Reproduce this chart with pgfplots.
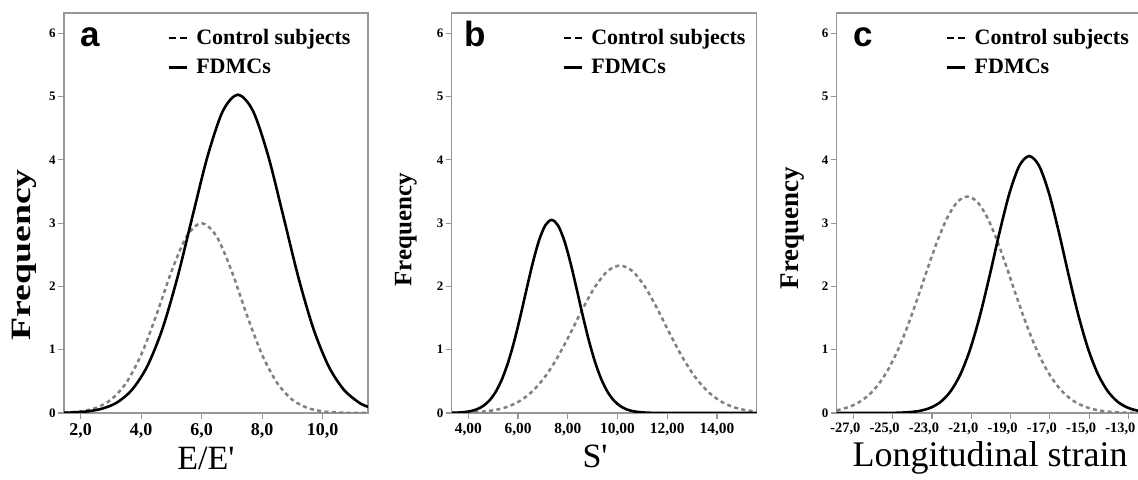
\documentclass[border=0pt]{standalone}
\usepackage{fontspec}
\setmainfont{Liberation Serif}
\newfontfamily\labfont{Liberation Serif}[Ligatures=TeXOff]
\newfontfamily\letterfont{Liberation Sans}
\usepackage{graphicx}
\usepackage{pgfplots}
\pgfplotsset{compat=1.18}

\definecolor{framegray}{RGB}{150,150,150}
\definecolor{ctrlgray}{RGB}{128,128,128}

\pgfplotsset{
  panel/.style={
    scale only axis, anchor=south west,
    height=200pt, ymin=0, ymax=6.32,
    ytick={0,1,2,3,4,5,6}, yticklabels={0,1,2,3,4,5,6},
    tick pos=left, tick align=outside, major tick length=3pt,
    axis line style={framegray, line width=0.7pt},
    tick style={framegray, line width=0.6pt},
    yticklabel style={font=\fontsize{6.5}{7}\selectfont\bfseries, inner sep=1pt},
    legend cell align=left,
    legend style={draw=none, fill=none, anchor=north east, inner sep=0pt,
      font=\fontsize{11}{12}\selectfont\bfseries, row sep=3.5pt,
      nodes={inner sep=0.5pt, text height=8pt, text depth=2pt},
      /tikz/every odd column/.append style={column sep=3.5pt}},
  },
  ctrlline/.style={ctrlgray, line width=1.25pt, dash pattern=on 2pt off 1.7pt, smooth,
    legend image code/.code={
      \draw[black, line width=1pt, dash pattern=on 3.5pt off 2pt] (0pt,0pt) -- (9pt,0pt);}},
  fdmcline/.style={black, line width=1.3pt, smooth,
    legend image code/.code={
      \path (0pt,0pt) -- (9pt,0pt);
      \draw[black, line width=1.1pt] (0.3pt,0pt) -- (7.5pt,0pt);}},
}

\begin{document}
\begin{tikzpicture}

% ---- panel a : E/E'
\begin{axis}[panel, at={(32pt,33.5pt)}, width=152pt,
    xmin=1.45, xmax=11.5,
    xtick={2,4,6,8,10}, xticklabels={{2,0},{4,0},{6,0},{8,0},{10,0}},
    xticklabel style={font=\fontsize{9}{10}\selectfont\bfseries, yshift=1.5pt},
    xlabel={\labfont\fontsize{17}{18}\selectfont E/E'},
    xlabel style={at={(axis description cs:0.467,-0.1425)}, anchor=base},
    ylabel={\scalebox{1.35}[1]{\bfseries\fontsize{14}{15}\selectfont Frequency}},
    ylabel style={at={(axis description cs:-0.132,0.395)}, anchor=center},
    legend style={at={(axis description cs:0.947,0.965)}},
]
\addplot[ctrlline] coordinates {
  (1.45,0.006) (2.0,0.026) (2.5,0.080) (3.0,0.209) (3.5,0.472) (4.0,0.919)
  (4.5,1.542) (5.0,2.232) (5.5,2.786) (6.0,3.000) (6.5,2.786) (7.0,2.232)
  (7.5,1.542) (8.0,0.919) (8.5,0.472) (9.0,0.209) (9.5,0.080) (10.0,0.026)
  (10.5,0.008) (11.0,0.002) (11.5,0.000)
};
\addplot[fdmcline] coordinates {
  (1.45,0.004) (1.7,0.008) (2.2,0.024) (2.7,0.067) (3.2,0.165) (3.7,0.368)
  (4.2,0.736) (4.7,1.324) (5.2,2.140) (5.7,3.111) (6.2,4.063) (6.7,4.770)
  (7.2,5.030) (7.7,4.770) (8.2,4.063) (8.7,3.111) (9.2,2.140) (9.7,1.324)
  (10.2,0.736) (10.7,0.368) (11.2,0.165) (11.5,0.097)
};
\legend{Control subjects, FDMCs}
\node[anchor=base west, font=\letterfont\bfseries\fontsize{17.5}{18}\selectfont]
  at (axis description cs:0.03,0.915) {a};
\end{axis}

% ---- panel b : S'
\begin{axis}[panel, at={(225.85pt,33.5pt)}, width=152.5pt,
    xmin=3.33, xmax=15.6,
    xtick={4,6,8,10,12,14},
    xticklabels={{4,00},{6,00},{8,00},{10,00},{12,00},{14,00}},
    xticklabel style={font=\fontsize{7.7}{8.5}\selectfont\bfseries, yshift=1.5pt},
    xlabel={\labfont\fontsize{17}{18}\selectfont S'},
    xlabel style={at={(axis description cs:0.47,-0.1375)}, anchor=base},
    ylabel={\bfseries\fontsize{12.5}{13}\selectfont Frequency},
    ylabel style={at={(axis description cs:-0.15,0.4575)}, anchor=center},
    legend style={at={(axis description cs:0.968,0.965)}},
]
\addplot[ctrlline] coordinates {
  (3.35,0.002) (3.60,0.003) (4.10,0.009) (4.60,0.022) (5.10,0.049) (5.60,0.102)
  (6.10,0.197) (6.60,0.352) (7.10,0.581) (7.60,0.888) (8.10,1.257) (8.60,1.647)
  (9.10,1.997) (9.60,2.242) (10.10,2.330) (10.60,2.242) (11.10,1.997) (11.60,1.647)
  (12.10,1.257) (12.60,0.888) (13.10,0.581) (13.60,0.352) (14.10,0.197) (14.60,0.102)
  (15.10,0.049) (15.60,0.022)
};
\addplot[fdmcline] coordinates {
  (3.35,0.003) (3.60,0.007) (3.85,0.015) (4.10,0.030) (4.35,0.060) (4.60,0.112)
  (4.85,0.199) (5.10,0.334) (5.35,0.532) (5.60,0.801) (5.85,1.142) (6.10,1.541)
  (6.35,1.971) (6.60,2.386) (6.85,2.735) (7.10,2.968) (7.35,3.050) (7.60,2.968)
  (7.85,2.735) (8.10,2.386) (8.35,1.971) (8.60,1.541) (8.85,1.142) (9.10,0.801)
  (9.35,0.532) (9.60,0.334) (9.85,0.199) (10.10,0.112) (10.35,0.060) (10.60,0.030)
  (10.85,0.015) (11.10,0.007) (11.35,0.003) (12.00,0.000) (13.50,0.000) (15.60,0.000)
};
\legend{Control subjects, FDMCs}
\node[anchor=base west, font=\letterfont\bfseries\fontsize{17.5}{18}\selectfont]
  at (axis description cs:0.02,0.915) {b};
\end{axis}

% ---- panel c : Longitudinal strain
\begin{axis}[panel, at={(418.35pt,33.5pt)}, width=153.7pt,
    xmin=-27.85, xmax=-12.2,
    xtick={-27,-25,-23,-21,-19,-17,-15,-13},
    xticklabels={{-27,0},{-25,0},{-23,0},{-21,0},{-19,0},{-17,0},{-15,0},{-13,0}},
    xticklabel style={font=\fontsize{7.2}{8}\selectfont\bfseries, xshift=-4pt, yshift=1.5pt},
    xlabel={\labfont\fontsize{18}{19}\selectfont Longitudinal strain},
    xlabel style={at={(axis description cs:0.4993,-0.135)}, anchor=base},
    ylabel={\bfseries\fontsize{13.5}{14}\selectfont Frequency},
    ylabel style={at={(axis description cs:-0.142,0.4625)}, anchor=center},
    legend style={at={(axis description cs:0.955,0.965)}},
]
\addplot[ctrlline] coordinates {
  (-27.85,0.043) (-27.70,0.053) (-27.20,0.098) (-26.70,0.172) (-26.20,0.290)
  (-25.70,0.463) (-25.20,0.704) (-24.70,1.020) (-24.20,1.406) (-23.70,1.845)
  (-23.20,2.304) (-22.70,2.738) (-22.20,3.099) (-21.70,3.337) (-21.20,3.420)
  (-20.70,3.337) (-20.20,3.099) (-19.70,2.738) (-19.20,2.304) (-18.70,1.845)
  (-18.20,1.406) (-17.70,1.020) (-17.20,0.704) (-16.70,0.463) (-16.20,0.290)
  (-15.70,0.172) (-15.20,0.098) (-14.70,0.053) (-14.20,0.027) (-13.70,0.013)
  (-13.20,0.006) (-12.70,0.003) (-12.20,0.001)
};
\addplot[fdmcline] coordinates {
  (-27.85,0.000) (-26.05,0.000) (-25.05,0.002) (-24.55,0.006) (-24.05,0.016)
  (-23.55,0.038) (-23.05,0.086) (-22.55,0.178) (-22.05,0.344) (-21.55,0.613)
  (-21.05,1.013) (-20.55,1.548) (-20.05,2.190) (-19.55,2.869) (-19.05,3.479)
  (-18.55,3.907) (-18.05,4.060) (-17.55,3.907) (-17.05,3.479) (-16.55,2.869)
  (-16.05,2.190) (-15.55,1.548) (-15.05,1.013) (-14.55,0.613) (-14.05,0.344)
  (-13.55,0.178) (-13.05,0.086) (-12.55,0.038) (-12.20,0.018)
};
\legend{Control subjects, FDMCs}
\node[anchor=base west, font=\letterfont\bfseries\fontsize{17.5}{18}\selectfont]
  at (axis description cs:0.03,0.915) {c};
\end{axis}

\pgfresetboundingbox
\useasboundingbox (0pt,0pt) rectangle (569pt,240pt);
\end{tikzpicture}
\end{document}
